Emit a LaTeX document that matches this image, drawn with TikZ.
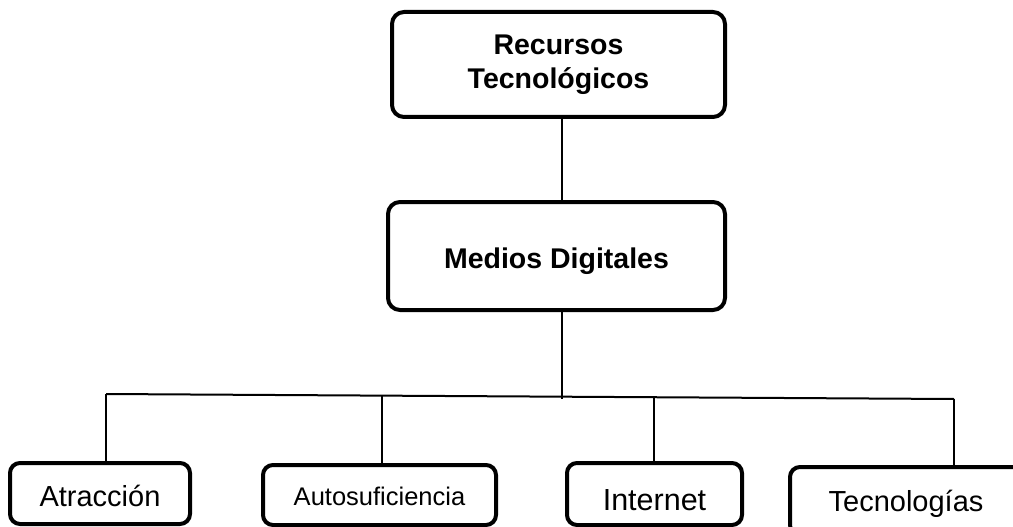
\documentclass[tikz,border=0pt]{standalone}
\usepackage{fontspec}
\setmainfont{Liberation Sans}

\begin{document}
\begin{tikzpicture}[x=1pt,y=-1pt,line width=2pt,
	main node/.style={draw,rounded corners=12pt,line width=4pt,align=center,inner sep=0pt,
		font=\fontsize{28.5}{34}\selectfont\bfseries},
	leaf node/.style={draw,rounded corners=10pt,line width=4pt,inner sep=0pt,text depth=0pt,
		font=\fontsize{29}{34}\selectfont}]
	
	\useasboundingbox (0,0) rectangle (1013,527);
	\clip (0,0) rectangle (1013,527);
	
	\node[main node,minimum width=333pt,minimum height=105pt] (rec) at (558.5,64.5) {Recursos\\Tecnológicos};
	\node[main node,minimum width=337pt,minimum height=108pt,text height=24pt,text depth=0pt] (med) at (556.5,256) {Medios Digitales};
	
	\node[leaf node,minimum width=180pt,minimum height=61pt,text height=25.8pt] (atr) at (100,493.5) {Atracción};
	\node[leaf node,minimum width=233pt,minimum height=60pt,text height=21.3pt,
		font=\fontsize{25.5}{30}\selectfont] (aut) at (379.5,495) {Autosuficiencia};
	\node[leaf node,minimum width=175pt,minimum height=62pt,text height=32pt,
		font=\fontsize{30.5}{36}\selectfont] (int) at (654.5,494) {Internet};
	\node[leaf node,minimum width=232pt,minimum height=68pt,text height=20.8pt] (tec) at (906,501) {Tecnologías};
	
	% bus line
	\coordinate (stub) at (562,399);
	\coordinate (j1) at (106,394);
	\coordinate (j2) at (382,395.6);
	\coordinate (j3) at (654,397.2);
	\coordinate (j4) at (954,399);
	
	\draw (rec.south -| stub) -- (med.north -| stub);
	\draw (med.south -| stub) -- (stub);
	\draw (j1) -- (j4);
	\draw (j1) -- (j1 |- atr.north);
	\draw (j2) -- (j2 |- aut.north);
	\draw (j3) -- (j3 |- int.north);
	\draw (j4) -- (j4 |- tec.north);
\end{tikzpicture}
\end{document}
